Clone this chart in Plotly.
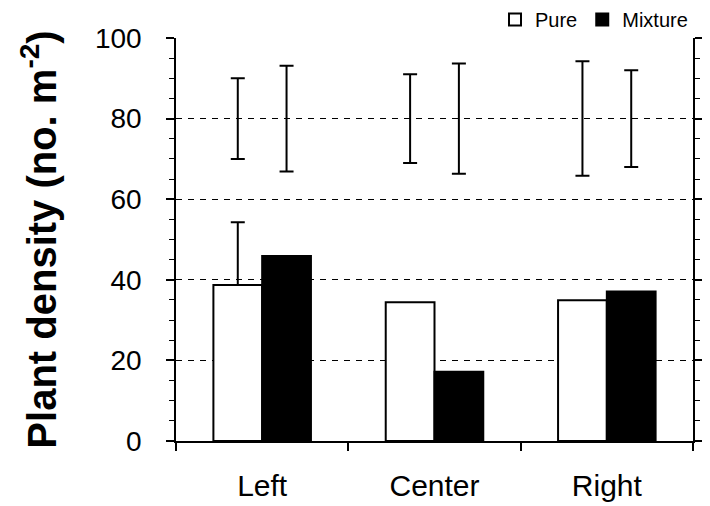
import plotly.graph_objects as go

categories = ["Left", "Center", "Right"]
pure = [38.7, 34.4, 34.9]
mixture = [45.9, 17.2, 37.1]
pure_err_up = [15.6, None, None]

# floating error bars (hidden series centred near 80)
pure_hidden = [80, 80, 80]
pure_hidden_err = [10.0, 11.0, 14.2]
mix_hidden = [80, 80, 80]
mix_hidden_err = [13.1, 13.7, 12.0]

y_ticks = [0, 20, 40, 60, 80, 100]

FONT = "Arial, Liberation Sans, sans-serif"

fig = go.Figure()

fig.add_trace(go.Bar(
    x=categories, y=pure, name="Pure", offsetgroup="pure",
    marker=dict(color="white", line=dict(color="black", width=2)),
))
fig.add_trace(go.Bar(
    x=categories, y=mixture, name="Mixture", offsetgroup="mix",
    marker=dict(color="black", line=dict(color="black", width=2)),
))

# upward-only error bar on the pure bars that have one
pure_err_base = [p if e is not None else None for p, e in zip(pure, pure_err_up)]
fig.add_trace(go.Bar(
    x=categories, y=pure_err_base, name="pure_err", offsetgroup="pure",
    showlegend=False, hoverinfo="skip",
    marker=dict(color="rgba(0,0,0,0)", line=dict(width=0)),
    error_y=dict(type="data", array=pure_err_up, arrayminus=[0] * len(pure),
                 symmetric=False, color="black", thickness=2, width=7),
))
fig.add_trace(go.Bar(
    x=categories, y=pure_hidden, name="pure_hidden", offsetgroup="pure",
    showlegend=False, hoverinfo="skip",
    marker=dict(color="rgba(0,0,0,0)", line=dict(width=0)),
    error_y=dict(type="data", array=pure_hidden_err, symmetric=True,
                 color="black", thickness=2, width=7),
))
fig.add_trace(go.Bar(
    x=categories, y=mix_hidden, name="mix_hidden", offsetgroup="mix",
    showlegend=False, hoverinfo="skip",
    marker=dict(color="rgba(0,0,0,0)", line=dict(width=0)),
    error_y=dict(type="data", array=mix_hidden_err, symmetric=True,
                 color="black", thickness=2, width=7),
))

fig.update_layout(
    width=702, height=498,
    margin=dict(l=168, r=17, t=30, b=65, pad=0, autoexpand=False),
    paper_bgcolor="white", plot_bgcolor="white",
    barmode="group", bargap=0.434, bargroupgap=0,
    font=dict(family=FONT, color="black"),
    showlegend=True,
    legend=dict(orientation="h", x=1.0, xanchor="right", y=1.046, yanchor="middle",
                font=dict(size=20, family=FONT), bgcolor="rgba(0,0,0,0)",
                itemwidth=30, traceorder="normal", tracegroupgap=0),
    xaxis=dict(
        type="category", tickson="boundaries", ticks="outside", ticklen=8,
        tickwidth=1.5, tickcolor="black", showline=True, linecolor="black",
        linewidth=1.5, showgrid=False, mirror=False,
        tickfont=dict(size=30, family=FONT), ticklabelstandoff=17,
    ),
    yaxis=dict(
        range=[0, 100], tickvals=y_ticks, ticks="outside", ticklen=8,
        tickwidth=1.5, tickcolor="black", showline=True, linecolor="black",
        linewidth=1.5, mirror="ticks",
        showgrid=True, gridcolor="black", gridwidth=1, griddash="6px,6px",
        zeroline=False,
        tickfont=dict(size=28, family=FONT), ticklabelstandoff=19,
        minor=dict(dtick=5, ticks="outside", ticklen=5, tickcolor="black",
                   tickwidth=1, showgrid=False),
        title=dict(text="<b>Plant density (no. m<sup>-2</sup>)</b>",
                   font=dict(size=40, family=FONT), standoff=26),
    ),
)

fig.write_html("out.html")
